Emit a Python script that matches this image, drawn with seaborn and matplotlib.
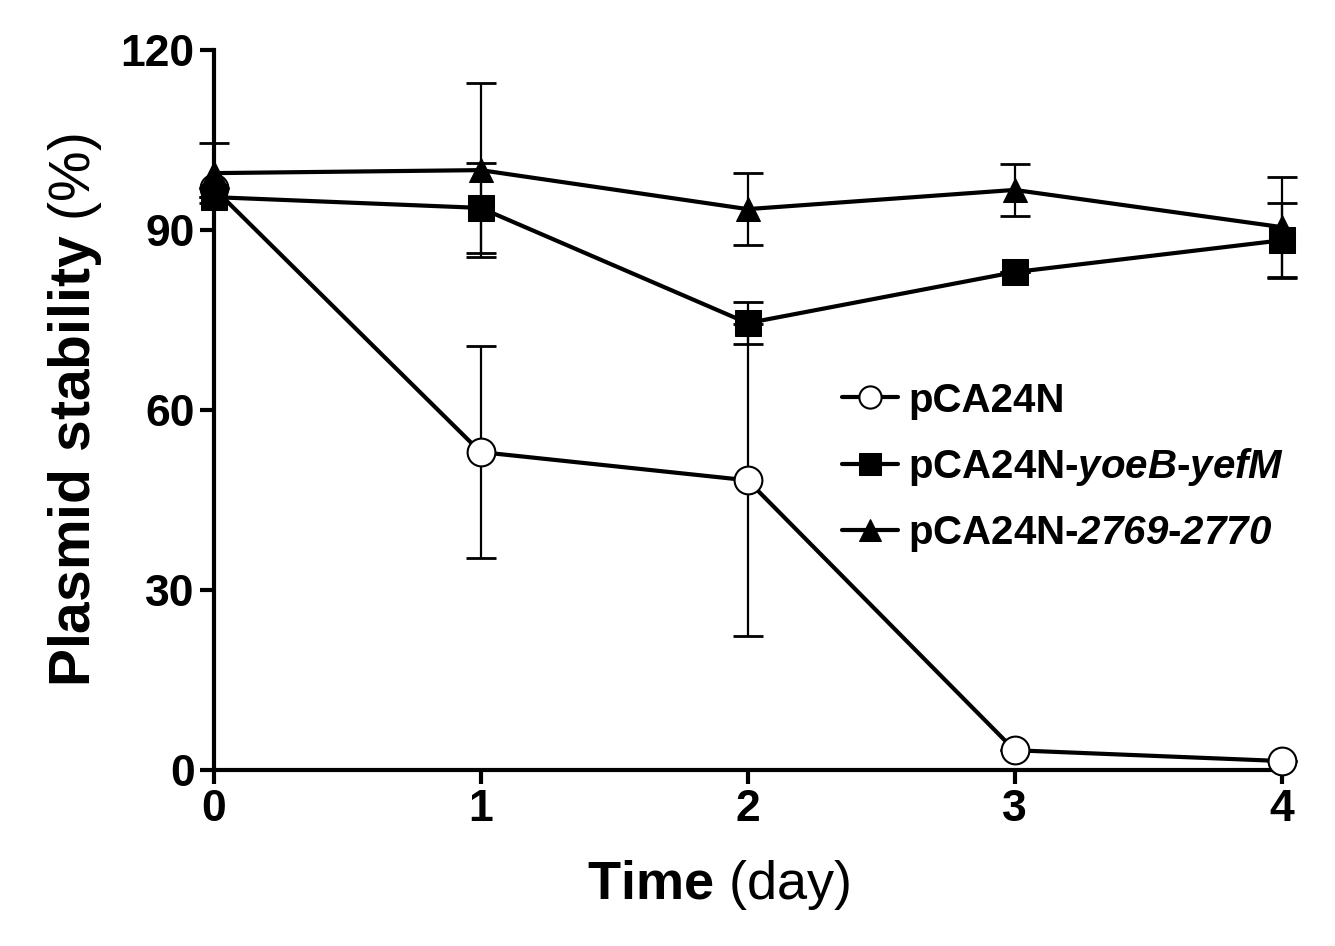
import numpy as np
import pandas as pd
import matplotlib
matplotlib.use('Agg')
import matplotlib.pyplot as plt
import seaborn as sns

days = [0, 1, 2, 3, 4]
labels = ['pCA24N', 'pCA24N-$\\mathit{yoeB}$-$\\mathit{yefM}$', 'pCA24N-$\\mathsf{2769}$-$\\mathsf{2770}$']
ctrl = [97.0, 53.0, 48.3, 3.3, 1.5]
ctrl_err = [0, 17.7, 26.0, 0, 0]
yoeb = [95.5, 93.7, 74.5, 83.0, 88.3]
yoeb_err = [0, 7.5, 3.5, 0, 6.3]
tox = [99.5, 100.0, 93.5, 96.7, 90.5]
tox_err = [5.0, 14.5, 6.0, 4.3, 8.3]

sns.set_style('ticks')
plt.rcParams['font.family'] = ['Liberation Sans', 'DejaVu Sans']
plt.rcParams['mathtext.fontset'] = 'custom'
plt.rcParams['mathtext.bf'] = 'Liberation Sans:bold'
plt.rcParams['mathtext.it'] = 'Liberation Sans:bold:italic'
plt.rcParams['mathtext.sf'] = 'Liberation Sans:bold:italic'
plt.rcParams['mathtext.rm'] = 'Liberation Sans'
for k in ['text.color', 'axes.labelcolor', 'axes.edgecolor', 'xtick.color', 'ytick.color']:
    plt.rcParams[k] = 'black'

fig = plt.figure(figsize=(13.35, 9.46), dpi=100)
ax = fig.add_axes([0.160, 0.186, 0.800, 0.761])

series = [
    (ctrl, ctrl_err, labels[0], dict(marker='o', markersize=20, markerfacecolor='white',
                                     markeredgecolor='black', markeredgewidth=1.5)),
    (yoeb, yoeb_err, labels[1], dict(marker='s', markersize=19, markerfacecolor='black',
                                     markeredgecolor='black')),
    (tox, tox_err, labels[2], dict(marker='^', markersize=17, markerfacecolor='black',
                                   markeredgecolor='black')),
]

for vals, errs, lab, mk in series:
    ax.errorbar(days, vals, yerr=errs, fmt='none', ecolor='black', elinewidth=1.6,
                capsize=11, capthick=2, clip_on=False, zorder=2)
    df = pd.DataFrame({'day': days, 'val': vals})
    sns.lineplot(data=df, x='day', y='val', ax=ax, color='black', linewidth=3,
                 label=lab, clip_on=False, zorder=3, **mk)

ax.set_xlim(0, 4)
ax.set_ylim(0, 120)
ax.set_xticks(days)
ax.set_yticks([0, 30, 60, 90, 120])
sns.despine(ax=ax)
for s in ['left', 'bottom']:
    ax.spines[s].set_linewidth(3)
ax.tick_params(axis='both', width=3, length=10, labelsize=32, direction='out')
for t in ax.get_xticklabels() + ax.get_yticklabels():
    t.set_fontweight('bold')

ax.set_xlabel('$\\bf{Time}$ (day)', fontsize=39)
ax.xaxis.set_label_coords(0.473, -0.122)
ax.set_ylabel('$\\bf{Plasmid\\ stability}$ (%)', fontsize=41, labelpad=12)

leg = ax.legend(loc='upper left', bbox_to_anchor=(0.554, 0.59), frameon=False,
                handlelength=1.4, handletextpad=0.25, labelspacing=0.65,
                prop={'size': 29, 'weight': 'bold'})
for line in leg.get_lines():
    line.set_markersize(16)
    line.set_linewidth(3)

fig.savefig('out.png', dpi=100)
